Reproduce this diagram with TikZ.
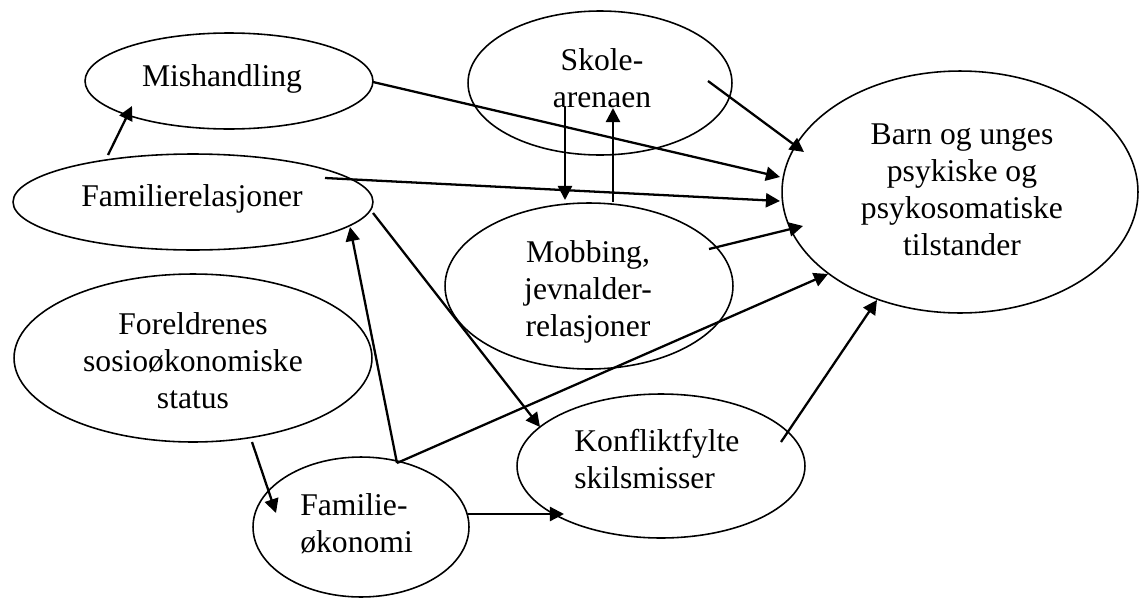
\documentclass[tikz,border=0pt]{standalone}
\usepackage{fontspec}
\setmainfont{Liberation Serif}
\usetikzlibrary{shapes.geometric,arrows.meta}
\begin{document}
\begin{tikzpicture}[x=0.02cm,y=-0.02cm,
  ell/.style={ellipse,draw,line width=0.9pt,inner sep=0pt},
  txt/.style={inner sep=0pt,align=center,anchor=base,
    font=\fontsize{18}{21}\selectfont},
  txtl/.style={txt,align=left,anchor=base west},
  arr/.style={line width=1.3pt,-{Triangle[length=8pt,width=8pt]}}]
\useasboundingbox (0,0) rectangle (1140,599);
% ellipses
\node[ell,minimum width=5.76cm,minimum height=1.92cm] (mish) at (229,81) {};
\node[ell,minimum width=7.2cm,minimum height=1.92cm] (fam) at (193,202) {};
\node[ell,minimum width=5.28cm,minimum height=2.88cm] (skole) at (600,83) {};
\node[ell,minimum width=7.12cm,minimum height=4.84cm] (barn) at (960,192) {};
\node[ell,minimum width=5.76cm,minimum height=3.32cm] (mob) at (589,286) {};
\node[ell,minimum width=7.16cm,minimum height=3.36cm] (forel) at (193,358) {};
\node[ell,minimum width=4.32cm,minimum height=2.8cm] (famok) at (361,527) {};
\node[ell,minimum width=5.76cm,minimum height=2.88cm] (konf) at (661,466) {};
% texts (anchor = baseline of last line)
\node[txt] (mishT) at (222,86) {Mishandling};
\node[txt] (famT) at (192,206) {Familierelasjoner};
\node[txt] (skoleT) at (602,107) {Skole-\\arenaen};
\node[txt] (barnT) at (962,255) {Barn og unges\\psykiske og\\psykosomatiske\\tilstander};
\node[txt] (mobT) at (588,336) {Mobbing,\\jevnalder-\\relasjoner};
\node[txt] (forelT) at (193,408) {Foreldrenes\\sosioøkonomiske\\status};
\node[txtl] (famokT) at (300,552) {Familie-\\økonomi};
\node[txtl] (konfT) at (574,488) {Konfliktfylte\\skilsmisser};
% connector end points
\coordinate (famA) at (108,155);
\coordinate (mishIn) at (132,106);
\coordinate (mishOut) at (373,82);
\coordinate (barnA) at (780,177);
\coordinate (famB) at (325,178);
\coordinate (barnB) at (780,201);
\coordinate (skoleA) at (708,81);
\coordinate (barnC) at (804,152);
\coordinate (skoleB) at (565,107);
\coordinate (mobIn) at (565,200);
\coordinate (mobOut) at (613,202);
\coordinate (skoleIn) at (613,108);
\coordinate (mobB) at (709,249);
\coordinate (barnD) at (803,226);
\coordinate (famC) at (373,213);
\coordinate (konfIn) at (540,427);
\coordinate (famokA) at (397,463);
\coordinate (famIn) at (350,227);
\coordinate (barnE) at (828,274);
\coordinate (forelA) at (252,442);
\coordinate (famokIn) at (276,513);
\coordinate (famokB) at (468,514);
\coordinate (konfIn2) at (564,514);
\coordinate (konfA) at (781,442);
\coordinate (barnF) at (877,300);
\draw[arr] (famA) -- (mishIn);
\draw[arr] (mishOut) -- (barnA);
\draw[arr] (famB) -- (barnB);
\draw[arr] (skoleA) -- (barnC);
\draw[arr] (skoleB) -- (mobIn);
\draw[arr] (mobOut) -- (skoleIn);
\draw[arr] (mobB) -- (barnD);
\draw[arr] (famC) -- (konfIn);
\draw[arr] (famokA) -- (famIn);
\draw[arr] (famokA) -- (barnE);
\draw[arr] (forelA) -- (famokIn);
\draw[arr] (famokB) -- (konfIn2);
\draw[arr] (konfA) -- (barnF);
\end{tikzpicture}
\end{document}
